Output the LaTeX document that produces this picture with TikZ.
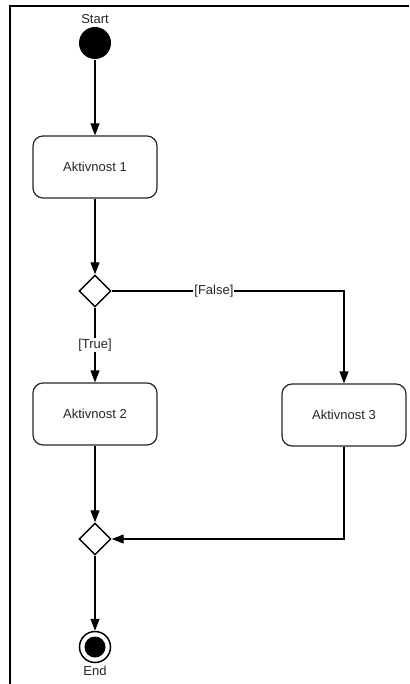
\documentclass[tikz,border=0pt]{standalone}
\usepackage{fontspec}
\setmainfont{Liberation Sans}
\usetikzlibrary{arrows.meta,shapes.geometric}

\begin{document}
\begin{tikzpicture}[x=1pt, y=-1pt, line width=1.2pt,
  act/.style = {draw=black!85, rounded corners=10pt, minimum width=124pt, minimum height=62pt, font=\fontsize{13}{15}\selectfont, text=black!85},
  dec/.style = {diamond, draw, minimum size=32pt, inner sep=0pt, line width=1.4pt},
  lbl/.style = {font=\fontsize{13}{15}\selectfont, text=black!85},
  flow/.style = {-{Triangle[length=12pt,width=9pt]}}]

\useasboundingbox (0,0) rectangle (409,684);

% Frame
\draw[line width=2pt] (10,684) -- (10,6) -- (409,6);

% Nodes
\node[circle, fill, minimum size=32pt, inner sep=0pt] (start) at (95,43) {};
\node[lbl] (startlbl) at (95,19) {Start};
\node[act] (akt1) at (95,167) {Aktivnost 1};
\node[dec] (dec1) at (95,291) {};
\node[act] (akt2) at (95,414) {Aktivnost 2};
\node[act] (akt3) at (344,415) {Aktivnost 3};
\node[dec] (dec2) at (95,539) {};
\node[circle, draw, line width=1.5pt, minimum size=31pt, inner sep=0pt] (end) at (95,647) {};
\node[circle, fill, minimum size=21pt, inner sep=0pt] (endin) at (95,647) {};
\node[lbl] (endlbl) at (95,671) {End};

% Lines
\draw[flow] (start) -- (akt1);
\draw[flow] (akt1) -- (dec1);
\draw[flow] (dec1) -- node[lbl, fill=white, inner sep=1pt] {[True]} (akt2);
\draw[flow] (dec1.east) -| node[lbl, pos=0.22, fill=white, inner sep=1pt] {[False]} (akt3.north);
\draw[flow] (akt3.south) |- (dec2.east);
\draw[flow] (akt2) -- (dec2);
\draw[flow] (dec2) -- (end);

\end{tikzpicture}
\end{document}
